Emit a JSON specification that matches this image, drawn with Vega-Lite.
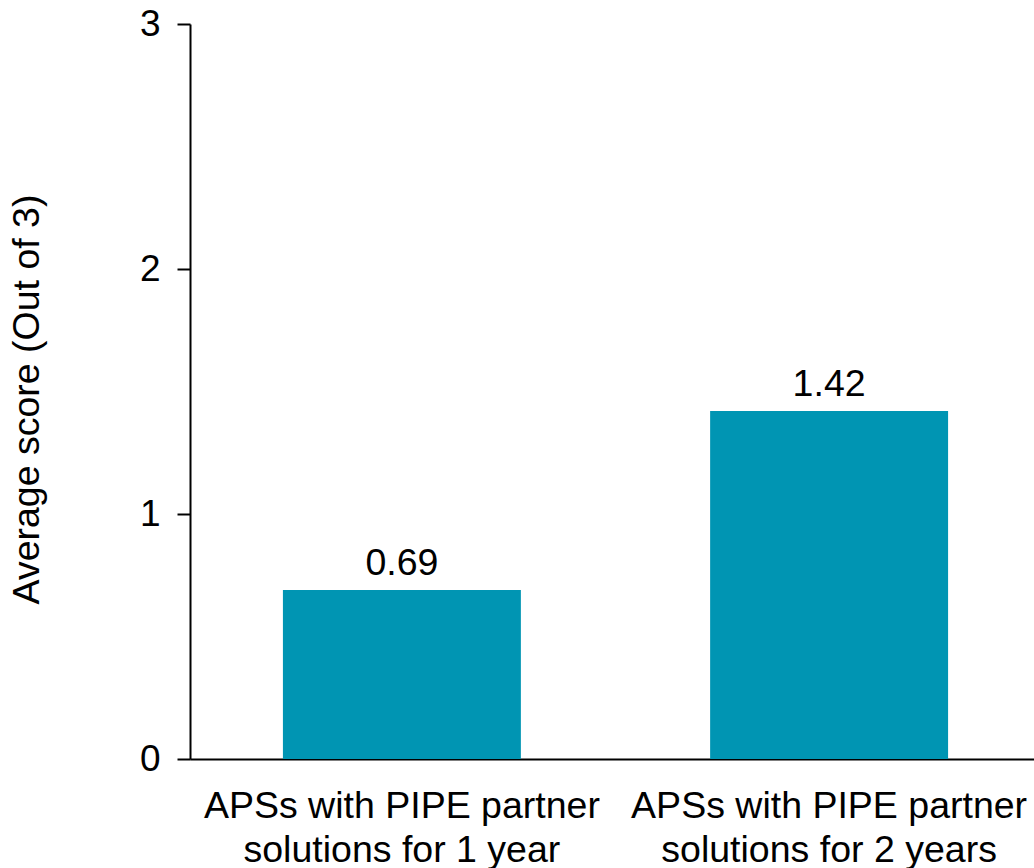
{
  "$schema": "https://vega.github.io/schema/vega-lite/v6.json",
  "autosize": {"type": "none"},
  "padding": {"left": 190, "top": 24, "right": 0, "bottom": 109},
  "width": 844,
  "height": 735,
  "background": "white",
  "config": {
    "view": {"stroke": null},
    "font": "Liberation Sans"
  },
  "data": {
    "values": [
      {"group": "APSs with PIPE partner|solutions for 1 year", "score": 0.69},
      {"group": "APSs with PIPE partner|solutions for 2 years", "score": 1.42}
    ]
  },
  "encoding": {
    "x": {
      "field": "group",
      "type": "nominal",
      "sort": null,
      "scale": {"range": [0, 851], "paddingInner": 0.443, "paddingOuter": 0.2175},
      "axis": {
        "title": null,
        "labelAngle": 0,
        "labelExpr": "split(datum.label, '|')",
        "labelFont": "Liberation Sans",
        "labelFontSize": 37.5,
        "labelColor": "black",
        "labelLineHeight": 44,
        "labelPadding": 28,
        "labelLimit": 0,
        "ticks": false,
        "domainColor": "black",
        "domainWidth": 2
      }
    },
    "y": {
      "field": "score",
      "type": "quantitative",
      "scale": {"domain": [0, 3], "nice": false},
      "axis": {
        "title": "Average score (Out of 3)",
        "titleFont": "Liberation Sans",
        "titleFontSize": 37.5,
        "titleFontWeight": "normal",
        "titleColor": "black",
        "titlePadding": 93,
        "titleY": 375,
        "values": [0, 1, 2, 3],
        "format": "d",
        "grid": false,
        "labelFont": "Liberation Sans",
        "labelFontSize": 37,
        "labelColor": "black",
        "labelPadding": 17,
        "tickSize": 13,
        "tickWidth": 2,
        "tickColor": "black",
        "domainColor": "black",
        "domainWidth": 2
      }
    }
  },
  "layer": [
    {"mark": {"type": "bar", "color": "#0095b3"}},
    {
      "mark": {"type": "text", "font": "Liberation Sans", "fontSize": 37.5, "color": "black", "baseline": "alphabetic", "dy": -15},
      "encoding": {"text": {"field": "score", "type": "quantitative", "format": ".2f"}}
    }
  ]
}
